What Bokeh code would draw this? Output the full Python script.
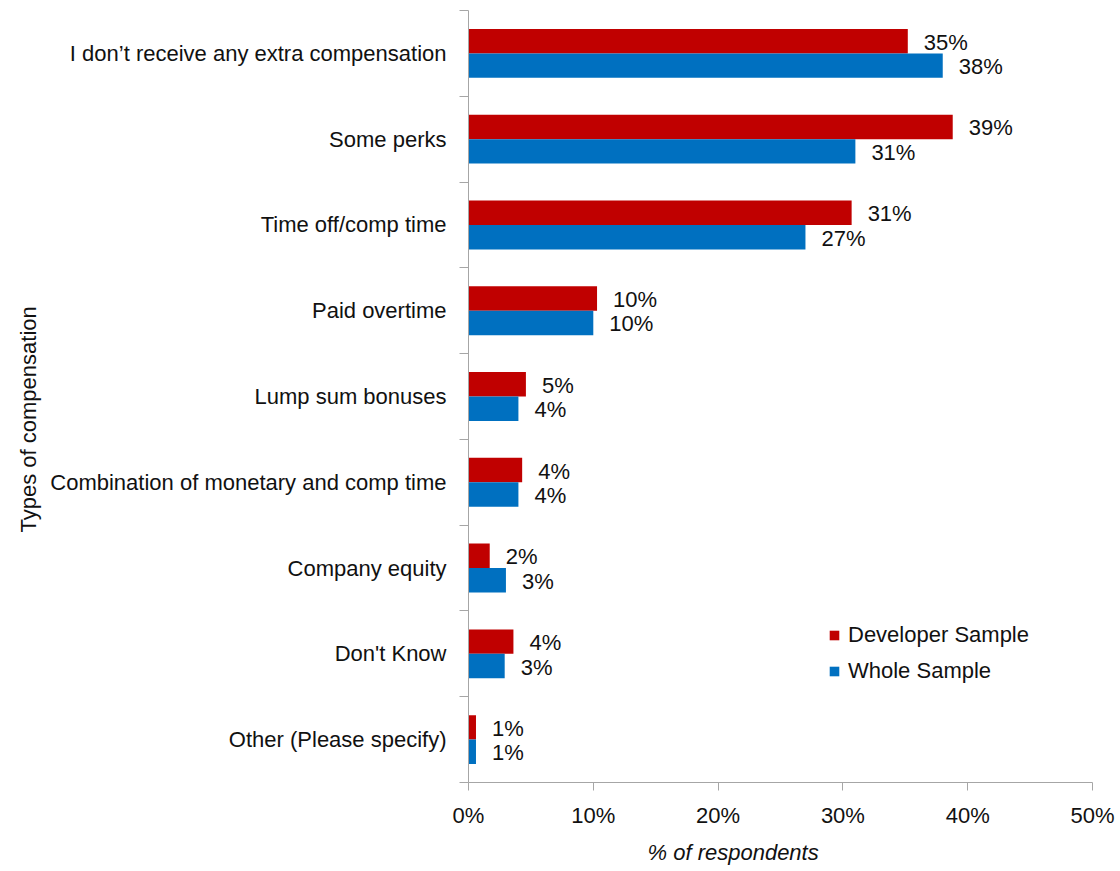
from bokeh.plotting import figure
from bokeh.models import (Range1d, FixedTicker, CustomJSTickFormatter, PrintfTickFormatter,
                          ColumnDataSource, LabelSet, Title, Legend, LegendItem)
from bokeh.core.properties import value
from bokeh.embed import file_html
from bokeh.resources import INLINE

categories = [
    "I don\u2019t receive any extra compensation",
    "Some perks",
    "Time off/comp time",
    "Paid overtime",
    "Lump sum bonuses",
    "Combination of monetary and comp time",
    "Company equity",
    "Don't Know",
    "Other (Please specify)",
]
developer_sample = [35.2, 38.8, 30.7, 10.3, 4.6, 4.3, 1.7, 3.6, 0.6]
whole_sample = [38.0, 31.0, 27.0, 10.0, 4.0, 4.0, 3.0, 2.9, 0.6]
x_ticks = [0, 10, 20, 30, 40, 50]

FONT = "Liberation Sans"
FS = "22px"
RED = "#C00000"
BLUE = "#0070C0"
AXIS = "#A6A6A6"
TXT = "#111111"

n = len(categories)
centers = [n - 0.5 - i for i in range(n)]
bar_h = 0.285

src_dev = ColumnDataSource(dict(
    y=[c + bar_h / 2 for c in centers], v=developer_sample,
    lab=[f"{int(v + 0.5)}%" for v in developer_sample]))
src_all = ColumnDataSource(dict(
    y=[c - bar_h / 2 for c in centers], v=whole_sample,
    lab=[f"{int(v + 0.5)}%" for v in whole_sample]))

p = figure(width=1120, height=871, output_backend="svg", toolbar_location=None,
           x_range=Range1d(0, 50), y_range=Range1d(0, n),
           min_border_left=468, min_border_top=10, min_border_right=28, min_border_bottom=88)
p.outline_line_color = None
p.grid.visible = False
p.background_fill_color = "white"
p.border_fill_color = "white"

r_dev = p.hbar(y="y", right="v", left=0, height=bar_h, source=src_dev, fill_color=RED, line_color=None)
r_all = p.hbar(y="y", right="v", left=0, height=bar_h, source=src_all, fill_color=BLUE, line_color=None)

for src in (src_dev, src_all):
    p.add_layout(LabelSet(x="v", y="y", text="lab", source=src, x_offset=16, y_offset=-1,
                          text_align="left", text_baseline="middle",
                          text_font=value(FONT), text_font_size=value(FS), text_color=TXT))

# x axis
xa = p.xaxis[0]
xa.ticker = FixedTicker(ticks=x_ticks)
xa.formatter = PrintfTickFormatter(format="%d%%")
xa.axis_line_color = AXIS
xa.major_tick_line_color = AXIS
xa.major_tick_out = 8
xa.major_tick_in = 0
xa.minor_tick_line_color = None
xa.major_label_standoff = 12
xa.major_label_text_font = FONT
xa.major_label_text_font_size = FS
xa.major_label_text_color = TXT

# y axis
ya = p.yaxis[0]
ya.ticker = FixedTicker(ticks=centers, minor_ticks=list(range(n + 1)))
ya.formatter = CustomJSTickFormatter(args=dict(names=categories), code="""
const i = Math.round(names.length - 0.5 - tick);
return (i >= 0 && i < names.length) ? names[i] : '';
""")
ya.axis_line_color = AXIS
ya.major_tick_line_color = None
ya.major_tick_out = 0
ya.major_tick_in = 0
ya.minor_tick_line_color = AXIS
ya.minor_tick_out = 9
ya.minor_tick_in = 0
ya.major_label_standoff = 13
ya.major_label_text_font = FONT
ya.major_label_text_font_size = FS
ya.major_label_text_color = TXT

# axis titles
p.add_layout(Title(text="% of respondents", align="left", offset=179, standoff=14,
                   text_font=FONT, text_font_size=FS, text_font_style="italic",
                   text_color=TXT), "below")
p.add_layout(Title(text="Types of compensation", align="left", offset=250, standoff=10,
                   vertical_align="top",
                   text_font=FONT, text_font_size=FS, text_font_style="normal",
                   text_color=TXT), "left")

legend = Legend(items=[LegendItem(label="Developer Sample", renderers=[r_dev]),
                       LegendItem(label="Whole Sample", renderers=[r_all])],
                location=(360, 96), padding=0, margin=0, spacing=6,
                glyph_width=12, glyph_height=12, label_height=30, label_standoff=8,
                label_text_font=FONT, label_text_font_size=FS, label_text_color=TXT,
                border_line_color=None, background_fill_alpha=0)
p.add_layout(legend)

open("out.html", "w").write(file_html(p, INLINE))
